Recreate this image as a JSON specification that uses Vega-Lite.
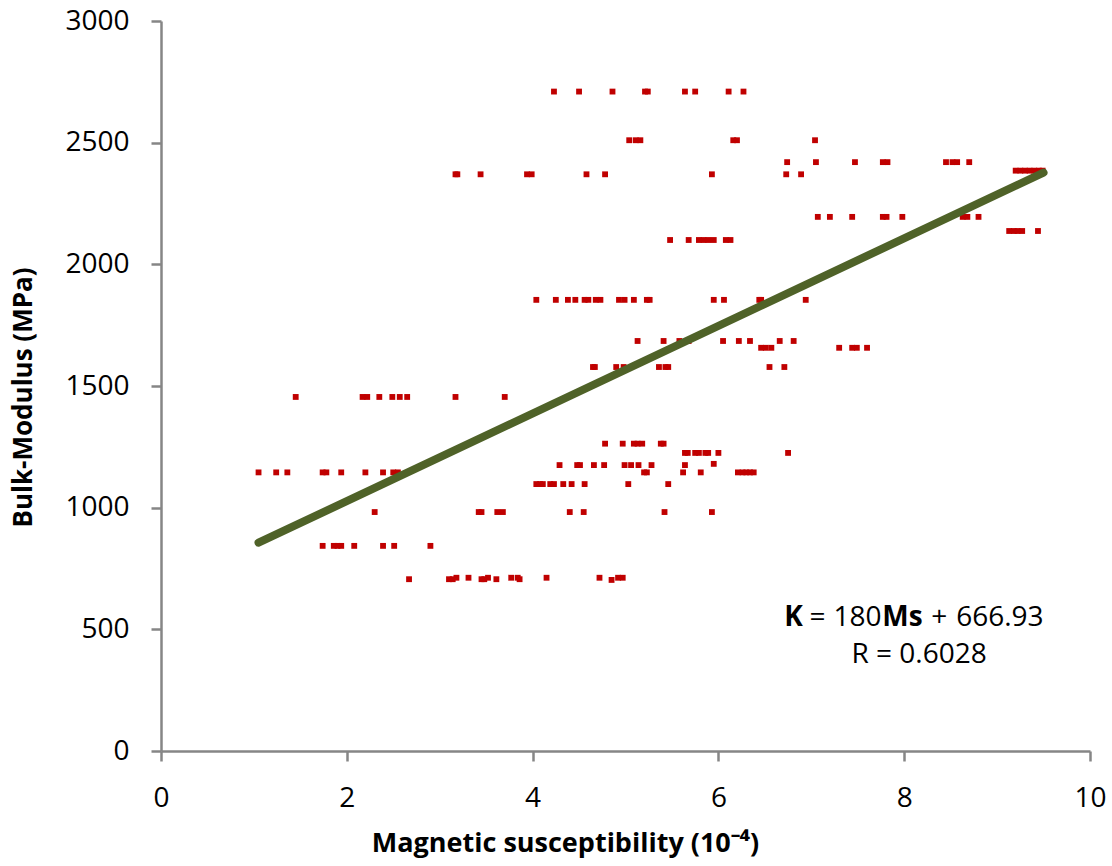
{
  "$schema": "https://vega.github.io/schema/vega-lite/v6.json",
  "width": 929,
  "height": 730,
  "autosize": {"type": "none"},
  "padding": {"left": 161, "top": 21, "right": 22, "bottom": 115},
  "background": "white",
  "config": {"view": {"stroke": null}, "font": "Open Sans"},
  "datasets": {
    "points": [
      {"x":4.23,"y":2710},{"x":4.50,"y":2710},{"x":4.86,"y":2710},{"x":5.21,"y":2710},{"x":5.24,"y":2710},{"x":5.64,"y":2710},{"x":5.75,"y":2710},{"x":6.11,"y":2710},{"x":6.27,"y":2710},
      {"x":5.04,"y":2510},{"x":5.11,"y":2510},{"x":5.16,"y":2510},{"x":6.16,"y":2510},{"x":6.20,"y":2510},{"x":7.04,"y":2510},
      {"x":6.74,"y":2420},{"x":7.05,"y":2420},{"x":7.47,"y":2420},{"x":7.77,"y":2420},{"x":7.82,"y":2420},{"x":8.45,"y":2420},{"x":8.52,"y":2420},{"x":8.57,"y":2420},{"x":8.70,"y":2420},
      {"x":3.17,"y":2370},{"x":3.19,"y":2370},{"x":3.44,"y":2370},{"x":3.94,"y":2370},{"x":3.99,"y":2370},{"x":4.58,"y":2370},{"x":4.78,"y":2370},{"x":5.93,"y":2370},{"x":6.73,"y":2370},{"x":6.89,"y":2370},
      {"x":9.20,"y":2385},{"x":9.25,"y":2385},{"x":9.30,"y":2385},{"x":9.35,"y":2385},{"x":9.40,"y":2385},{"x":9.45,"y":2385},{"x":9.49,"y":2385},
      {"x":7.07,"y":2195},{"x":7.20,"y":2195},{"x":7.44,"y":2195},{"x":7.77,"y":2195},{"x":7.81,"y":2195},{"x":7.98,"y":2195},{"x":8.63,"y":2195},{"x":8.68,"y":2195},{"x":8.80,"y":2195},
      {"x":9.13,"y":2137},{"x":9.18,"y":2137},{"x":9.22,"y":2137},{"x":9.27,"y":2137},{"x":9.44,"y":2137},
      {"x":5.48,"y":2100},{"x":5.68,"y":2100},{"x":5.79,"y":2100},{"x":5.84,"y":2100},{"x":5.89,"y":2100},{"x":5.95,"y":2100},{"x":6.08,"y":2100},{"x":6.13,"y":2100},
      {"x":4.04,"y":1854},{"x":4.25,"y":1854},{"x":4.38,"y":1854},{"x":4.46,"y":1854},{"x":4.56,"y":1854},{"x":4.60,"y":1854},{"x":4.68,"y":1854},{"x":4.73,"y":1854},{"x":4.93,"y":1854},{"x":4.99,"y":1854},{"x":5.09,"y":1854},{"x":5.23,"y":1854},{"x":5.26,"y":1854},{"x":5.95,"y":1854},{"x":6.06,"y":1854},{"x":6.44,"y":1854},{"x":6.46,"y":1854},{"x":6.94,"y":1854},
      {"x":5.13,"y":1685},{"x":5.41,"y":1685},{"x":5.58,"y":1685},{"x":5.68,"y":1685},{"x":6.05,"y":1685},{"x":6.22,"y":1685},{"x":6.34,"y":1685},{"x":6.66,"y":1685},{"x":6.81,"y":1685},
      {"x":6.46,"y":1657},{"x":6.51,"y":1657},{"x":6.57,"y":1657},{"x":7.30,"y":1657},{"x":7.44,"y":1657},{"x":7.49,"y":1657},{"x":7.60,"y":1657},
      {"x":4.65,"y":1578},{"x":4.67,"y":1578},{"x":4.90,"y":1578},{"x":4.98,"y":1578},{"x":5.36,"y":1578},{"x":5.43,"y":1578},{"x":5.46,"y":1578},{"x":6.55,"y":1578},{"x":6.71,"y":1578},
      {"x":1.45,"y":1455},{"x":2.17,"y":1455},{"x":2.22,"y":1455},{"x":2.35,"y":1455},{"x":2.49,"y":1455},{"x":2.57,"y":1455},{"x":2.65,"y":1455},{"x":3.17,"y":1455},{"x":3.70,"y":1455},
      {"x":4.78,"y":1263},{"x":4.97,"y":1263},{"x":5.09,"y":1263},{"x":5.13,"y":1263},{"x":5.18,"y":1263},{"x":5.38,"y":1263},{"x":5.41,"y":1263},
      {"x":5.64,"y":1225},{"x":5.67,"y":1225},{"x":5.75,"y":1225},{"x":5.79,"y":1225},{"x":5.86,"y":1225},{"x":5.89,"y":1225},{"x":6.00,"y":1225},{"x":6.75,"y":1225},
      {"x":4.29,"y":1175},{"x":4.48,"y":1175},{"x":4.51,"y":1175},{"x":4.66,"y":1175},{"x":4.77,"y":1175},{"x":4.99,"y":1175},{"x":5.06,"y":1175},{"x":5.14,"y":1175},{"x":5.28,"y":1175},{"x":5.64,"y":1175},{"x":5.95,"y":1180},
      {"x":5.20,"y":1145},{"x":5.23,"y":1145},{"x":5.62,"y":1145},{"x":5.81,"y":1145},{"x":6.21,"y":1145},{"x":6.26,"y":1145},{"x":6.30,"y":1145},{"x":6.34,"y":1145},{"x":6.38,"y":1145},
      {"x":1.05,"y":1145},{"x":1.24,"y":1145},{"x":1.36,"y":1145},{"x":1.74,"y":1145},{"x":1.78,"y":1145},{"x":1.94,"y":1145},{"x":2.20,"y":1145},{"x":2.39,"y":1145},{"x":2.50,"y":1145},{"x":2.55,"y":1145},
      {"x":4.04,"y":1097},{"x":4.08,"y":1097},{"x":4.11,"y":1097},{"x":4.19,"y":1097},{"x":4.23,"y":1097},{"x":4.33,"y":1097},{"x":4.42,"y":1097},{"x":4.56,"y":1097},{"x":5.03,"y":1097},{"x":5.46,"y":1097},
      {"x":2.30,"y":982},{"x":3.42,"y":982},{"x":3.45,"y":982},{"x":3.62,"y":982},{"x":3.68,"y":982},{"x":4.40,"y":982},{"x":4.55,"y":982},{"x":5.42,"y":982},{"x":5.93,"y":982},
      {"x":1.74,"y":843},{"x":1.86,"y":843},{"x":1.90,"y":843},{"x":1.94,"y":843},{"x":2.08,"y":843},{"x":2.39,"y":843},{"x":2.51,"y":843},{"x":2.90,"y":843},
      {"x":3.18,"y":712},{"x":3.31,"y":712},{"x":3.52,"y":712},{"x":3.77,"y":712},{"x":3.84,"y":712},{"x":4.15,"y":712},{"x":4.72,"y":712},{"x":4.92,"y":712},{"x":4.97,"y":712},
      {"x":2.67,"y":706},{"x":3.10,"y":706},{"x":3.14,"y":706},{"x":3.45,"y":706},{"x":3.48,"y":706},{"x":3.61,"y":706},{"x":3.86,"y":706},
      {"x":4.85,"y":703}
    ],
    "trend": [{"x": 1.05, "y": 856}, {"x": 9.5, "y": 2377}]
  },
  "layer": [
    {
      "data": {"name": "points"},
      "mark": {"type": "square", "size": 34, "color": "#C00000", "opacity": 1},
      "encoding": {
        "x": {
          "field": "x", "type": "quantitative",
          "scale": {"domain": [0, 10], "nice": false, "zero": false},
          "axis": {
            "values": [0, 2, 4, 6, 8, 10], "grid": false, "format": "d",
            "title": "Magnetic susceptibility (10⁻⁴)",
            "domainColor": "#868686", "domainWidth": 2.5,
            "tickColor": "#868686", "tickWidth": 2.5, "tickSize": 10,
            "labelFontSize": 28, "labelColor": "#000000", "labelPadding": 23,
            "labelFlush": false, "labelOverlap": false, "labelBound": false,
            "titleFontSize": 27, "titleFontWeight": "bold", "titleColor": "#000000",
            "titleX": 404, "titleY": 92, "titleBaseline": "middle", "titleAlign": "center"
          }
        },
        "y": {
          "field": "y", "type": "quantitative",
          "scale": {"domain": [0, 3000], "nice": false, "zero": false},
          "axis": {
            "values": [0, 500, 1000, 1500, 2000, 2500, 3000], "grid": false, "format": "d",
            "title": "Bulk-Modulus (MPa)",
            "domainColor": "#868686", "domainWidth": 2.5,
            "tickColor": "#868686", "tickWidth": 2.5, "tickSize": 10,
            "labelFontSize": 28, "labelColor": "#000000", "labelPadding": 22,
            "labelFlush": false, "labelOverlap": false, "labelBound": false,
            "titleFontSize": 26, "titleFontWeight": "bold", "titleColor": "#000000",
            "titleX": -138, "titleY": 376, "titleAngle": -90, "titleBaseline": "middle", "titleAlign": "center"
          }
        }
      }
    },
    {
      "data": {"name": "trend"},
      "mark": {"type": "line", "color": "#4F6228", "strokeWidth": 8, "strokeCap": "round"},
      "encoding": {
        "x": {"field": "x", "type": "quantitative"},
        "y": {"field": "y", "type": "quantitative"}
      }
    },
    {
      "data": {"values": [{}]},
      "mark": {"type": "text", "text": "K", "fontWeight": "bold", "fontSize": 28, "align": "left", "baseline": "alphabetic", "color": "#000000"},
      "encoding": {"x": {"datum": 6.71}, "y": {"datum": 514}}
    },
    {
      "data": {"values": [{}]},
      "mark": {"type": "text", "text": "=", "fontSize": 28, "align": "left", "baseline": "alphabetic", "color": "#000000"},
      "encoding": {"x": {"datum": 6.98}, "y": {"datum": 514}}
    },
    {
      "data": {"values": [{}]},
      "mark": {"type": "text", "text": "180", "fontSize": 28, "align": "left", "baseline": "alphabetic", "color": "#000000"},
      "encoding": {"x": {"datum": 7.24}, "y": {"datum": 514}}
    },
    {
      "data": {"values": [{}]},
      "mark": {"type": "text", "text": "Ms", "fontWeight": "bold", "fontSize": 28, "align": "left", "baseline": "alphabetic", "color": "#000000"},
      "encoding": {"x": {"datum": 7.765}, "y": {"datum": 514}}
    },
    {
      "data": {"values": [{}]},
      "mark": {"type": "text", "text": "+", "fontSize": 28, "align": "left", "baseline": "alphabetic", "color": "#000000"},
      "encoding": {"x": {"datum": 8.29}, "y": {"datum": 514}}
    },
    {
      "data": {"values": [{}]},
      "mark": {"type": "text", "text": "666.93", "fontSize": 28, "align": "left", "baseline": "alphabetic", "color": "#000000"},
      "encoding": {"x": {"datum": 8.56}, "y": {"datum": 514}}
    },
    {
      "data": {"values": [{}]},
      "mark": {"type": "text", "text": "R = 0.6028", "fontSize": 28, "align": "center", "baseline": "alphabetic", "color": "#000000"},
      "encoding": {"x": {"datum": 8.16}, "y": {"datum": 362}}
    }
  ]
}
